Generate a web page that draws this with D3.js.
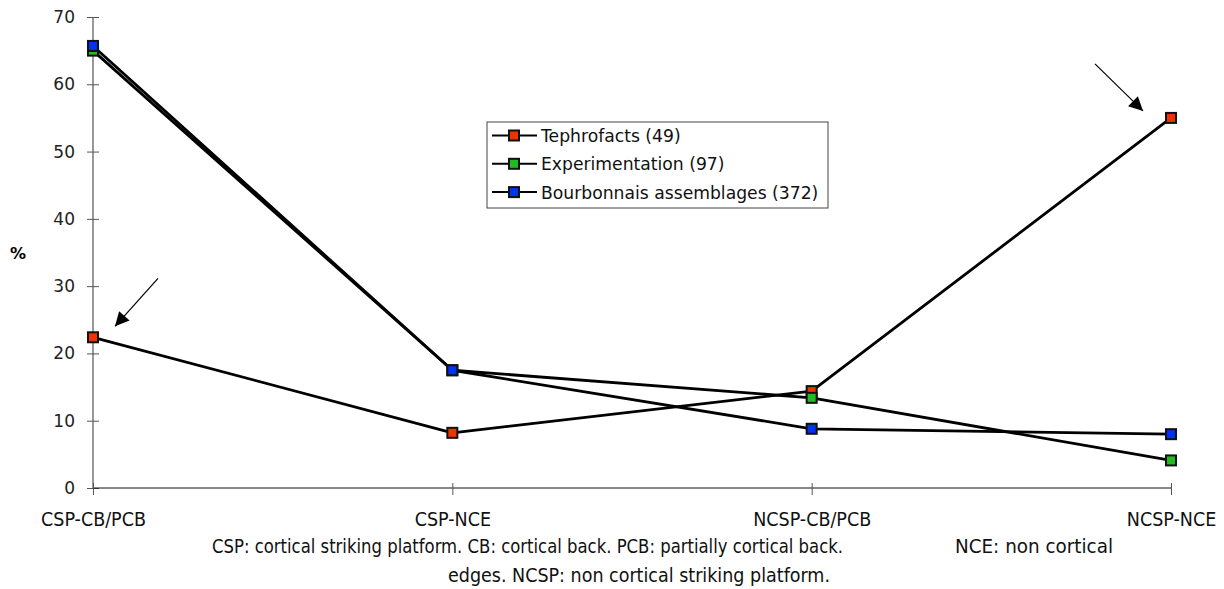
<!DOCTYPE html>
<html><head><meta charset="utf-8">
<script src="https://cdn.jsdelivr.net/npm/d3@7"></script>
<style>body{margin:0;background:#fff}svg{display:block}</style>
</head><body><svg id="c" width="1224" height="589"></svg>
<script>
const categories = ["CSP-CB/PCB", "CSP-NCE", "NCSP-CB/PCB", "NCSP-NCE"];
const seriesNames = ["Tephrofacts (49)", "Experimentation (97)", "Bourbonnais assemblages (372)"];
const tephrofacts = [22.4, 8.2, 14.4, 55.0];
const experimentation = [65.0, 17.5, 13.4, 4.1];
const bourbonnais = [65.7, 17.5, 8.8, 8.0];
const yTicks = [0, 10, 20, 30, 40, 50, 60, 70];
const colors = ["#ee3300", "#22bb22", "#0033ee"];
const footLine1 = "CSP: cortical striking platform. CB: cortical back. PCB: partially cortical back.";
const footNCE = "NCE: non cortical";
const footLine2 = "edges. NCSP: non cortical striking platform.";
const yLabel = "%";

const series = [tephrofacts, experimentation, bourbonnais];
const svg = d3.select("#c");
const x = d3.scalePoint().domain(categories).range([93, 1171]);
const y = d3.scaleLinear().domain([0, 70]).range([488, 17]);
const font = "DejaVu Sans";
const cfont = "DejaVu Sans Condensed";

// y axis
const yAxis = svg.append("g").attr("transform", "translate(93,0)")
  .call(d3.axisLeft(y).tickValues(yTicks).tickSize(6).tickPadding(12));
yAxis.selectAll(".tick line").attr("x2", 6).attr("x1", -6).attr("stroke", "#555");
yAxis.select(".domain").attr("d", `M0,${y(70)}V${y(0)}`).attr("stroke", "#333");
yAxis.selectAll("text").attr("font-family", font).attr("font-size", 17).attr("fill", "#222");

// x axis
const xAxis = svg.append("g").attr("transform", `translate(0,${y(0)})`)
  .call(d3.axisBottom(x).tickSize(6).tickPadding(18));
xAxis.selectAll(".tick line").attr("y1", -5).attr("y2", 7).attr("stroke", "#555");
xAxis.select(".domain").attr("d", `M${x.range()[0]},0H${x.range()[1]}`).attr("stroke", "#111");
xAxis.selectAll("text").attr("font-family", cfont).attr("font-size", 19.5).attr("fill", "#111");

// y label
svg.append("text").attr("x", 18).attr("y", 259).attr("text-anchor", "middle")
  .attr("font-family", font).attr("font-weight", "bold").attr("font-size", 16).text(yLabel);

// lines
const line = d3.line().x((d, i) => x(categories[i])).y(d => y(d));
series.forEach((s, k) => {
  svg.append("path").attr("d", line(s)).attr("fill", "none")
    .attr("stroke", "#000").attr("stroke-width", 2.8).attr("stroke-linejoin", "round");
});
series.forEach((s, k) => {
  svg.append("g").selectAll("rect").data(s).join("rect")
    .attr("x", (d, i) => x(categories[i]) - 5).attr("y", d => y(d) - 5)
    .attr("width", 10).attr("height", 10)
    .attr("fill", colors[k]).attr("stroke", "#111").attr("stroke-width", 2);
});

// arrows
const defs = svg.append("defs");
defs.append("marker").attr("id", "ah").attr("viewBox", "0 0 10 10").attr("refX", 10).attr("refY", 5)
  .attr("markerWidth", 15).attr("markerHeight", 14).attr("markerUnits", "userSpaceOnUse").attr("orient", "auto")
  .append("path").attr("d", "M0,0L10,5L0,10Z").attr("fill", "#000");
function arrow(cat, val, dx1, dy1, dx2, dy2) {
  svg.append("line").attr("x1", x(cat) + dx1).attr("y1", y(val) + dy1)
    .attr("x2", x(cat) + dx2).attr("y2", y(val) + dy2)
    .attr("stroke", "#000").attr("stroke-width", 1.2).attr("marker-end", "url(#ah)");
}
arrow(categories[0], tephrofacts[0], 65, -59, 22, -11);
arrow(categories[3], tephrofacts[3], -76, -54, -28, -7);

// legend
const lg = svg.append("g");
lg.append("rect").attr("x", 487).attr("y", 122).attr("width", 341).attr("height", 86)
  .attr("fill", "#fff").attr("stroke", "#444").attr("stroke-width", 1);
seriesNames.forEach((n, k) => {
  const ly = 135.5 + k * 28.3;
  lg.append("line").attr("x1", 492).attr("x2", 537).attr("y1", ly).attr("y2", ly)
    .attr("stroke", "#000").attr("stroke-width", 2);
  lg.append("rect").attr("x", 509).attr("y", ly - 5).attr("width", 10).attr("height", 10)
    .attr("fill", colors[k]).attr("stroke", "#111").attr("stroke-width", 2);
  lg.append("text").attr("x", 541).attr("y", ly + 6.5).attr("font-family", font).attr("font-size", 17.2)
    .attr("fill", "#111").text(n);
});

// footnote
const fs = 18.6;
svg.append("text").attr("x", 212).attr("y", 553).attr("font-family", cfont).attr("font-size", fs)
  .attr("textLength", 631).attr("lengthAdjust", "spacingAndGlyphs").attr("fill", "#111").text(footLine1);
svg.append("text").attr("x", 955).attr("y", 553).attr("font-family", cfont).attr("font-size", fs)
  .attr("textLength", 158).attr("lengthAdjust", "spacingAndGlyphs").attr("fill", "#111").text(footNCE);
svg.append("text").attr("x", 448).attr("y", 582).attr("font-family", cfont).attr("font-size", fs)
  .attr("textLength", 382).attr("lengthAdjust", "spacingAndGlyphs").attr("fill", "#111").text(footLine2);
</script></body></html>
